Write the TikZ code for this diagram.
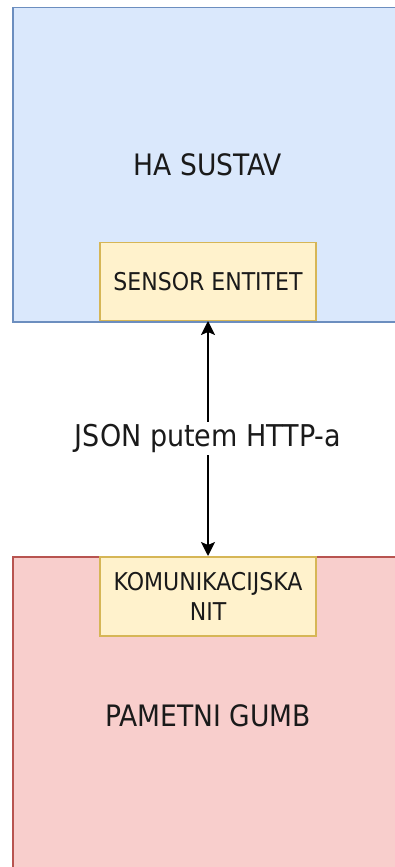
\documentclass[tikz,border=0pt]{standalone}
\usepackage{fontspec}
\setmainfont{DejaVu Sans Condensed}
\usetikzlibrary{arrows.meta}
\definecolor{bluefill}{HTML}{DAE8FC}
\definecolor{bluedraw}{HTML}{6C8EBF}
\definecolor{redfill}{HTML}{F8CECC}
\definecolor{reddraw}{HTML}{B85450}
\definecolor{yelfill}{HTML}{FFF2CC}
\definecolor{yeldraw}{HTML}{D6B656}
\definecolor{txt}{HTML}{1A1A1A}
\tikzset{
  bigbox/.style={draw, line width=1.5pt, inner sep=0pt, minimum width=392pt},
  smallbox/.style={draw=yeldraw, fill=yelfill, line width=1.5pt, minimum width=216pt, inner sep=2pt, align=center, text=txt, font=\fontsize{24.5}{30}\selectfont},
  bigtext/.style={text=txt, font=\fontsize{29.5}{34}\selectfont},
}
\begin{document}
\begin{tikzpicture}[x=1pt,y=-1pt]
\useasboundingbox (0,0) rectangle (395,867);
\begin{scope}
\clip (0,0) rectangle (395,867);
\node[bigbox, draw=bluedraw, fill=bluefill, minimum height=314pt, anchor=north west] (ha) at (12,7) {};
\node[bigbox, draw=reddraw, fill=redfill, minimum height=320pt, anchor=north west] (pg) at (12,556) {};
\end{scope}
\node[bigtext] (hat) at (208,165) {HA SUSTAV};
\node[bigtext] (pgt) at (208,716) {PAMETNI GUMB};
\node[smallbox, minimum height=78pt, anchor=south] (se) at (208,321) {SENSOR ENTITET};
\node[smallbox, minimum height=79pt, anchor=north] (kn) at (208,556) {KOMUNIKACIJSKA\\NIT};
\draw[line width=1.8pt, {Stealth[length=14pt,width=14pt,inset=3pt]}-{Stealth[length=14pt,width=14pt,inset=3pt]}] (se.south) -- (kn.north)
  node[midway, fill=white, text=txt, font=\fontsize{30}{34}\selectfont, inner sep=2pt] (lbl) {JSON putem HTTP-a};
\end{tikzpicture}
\end{document}
